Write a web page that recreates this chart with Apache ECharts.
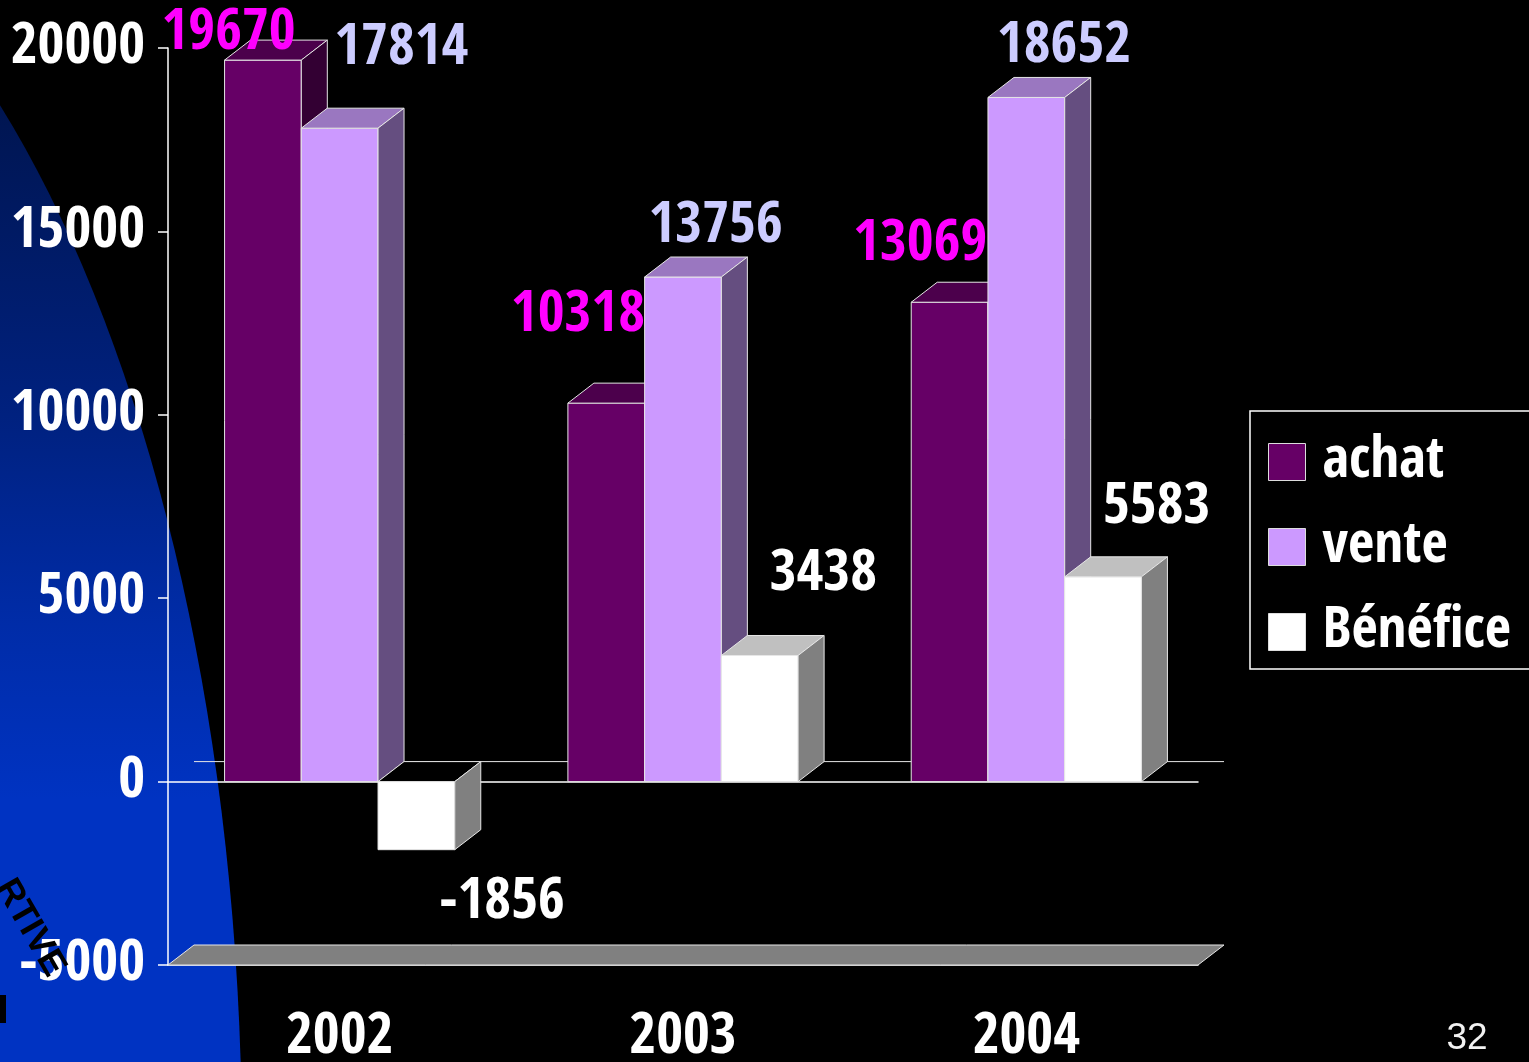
<!DOCTYPE html>
<html>
<head>
<meta charset="utf-8">
<title>achat / vente / Bénéfice</title>
<script src="https://cdn.jsdelivr.net/npm/echarts@6/dist/echarts.min.js"></script>
<style>
  html, body { margin: 0; padding: 0; background: #000; }
  #main { width: 1529px; height: 1062px; }
</style>
</head>
<body>
<div id="main"></div>
<script>
// values
var categories = ['2002', '2003', '2004'];
var achat = [19670, 10318, 13069];
var vente = [17814, 13756, 18652];
var benefice = [-1856, 3438, 5583];
var yMin = -5000, yMax = 20000, yStep = 5000;

var FONT = "'Open Sans Condensed', 'Roboto Condensed', 'DejaVu Sans Condensed', sans-serif";
// fake 3d depth of the bars (pixels)
var DX = 26, DY = -20;
var BAR_RATIO = 0.2235;

// label nudges, the labels on the slide were placed by hand
var labelShift = {
  achat: [[4, -26], [10, -87], [9, -57]],
  vente: [[100, -79], [71, -50], [76, -51]],
  benefice: [[124, 53], [102, -81], [92, -69]]
};

function toPairs(arr) {
  return arr.map(function (v, i) { return [i, v]; });
}

// one 3d bar: front, top and side faces + value label
function makeBar(slot, faces, labelColor, shifts) {
  return function (params, api) {
    var cat = api.value(0), val = api.value(1);
    var base = api.coord([cat, 0]);
    var end = api.coord([cat, val]);
    var band = api.size([1, 0])[0];
    var w = band * BAR_RATIO;
    var x0 = base[0] + (slot - 1.5) * w;
    var x1 = x0 + w;
    var yT = Math.min(base[1], end[1]);
    var yB = Math.max(base[1], end[1]);
    var edge = { stroke: '#e6e6e6', lineWidth: 1 };
    var sh = shifts[params.dataIndex];
    return {
      type: 'group',
      children: [
        { type: 'rect', shape: { x: x0, y: yT, width: w, height: yB - yT },
          style: Object.assign({ fill: faces[0] }, edge) },
        { type: 'polygon', shape: { points: [[x0, yT], [x1, yT], [x1 + DX, yT + DY], [x0 + DX, yT + DY]] },
          style: Object.assign({ fill: val < 0 ? '#000' : faces[1] }, edge) },
        { type: 'polygon', shape: { points: [[x1, yT], [x1 + DX, yT + DY], [x1 + DX, yB + DY], [x1, yB]] },
          style: Object.assign({ fill: faces[2] }, edge) },
        { type: 'text', z2: 100,
          style: { text: String(val), x: x0 + sh[0], y: end[1] + sh[1],
            align: 'center', verticalAlign: 'middle',
            fill: labelColor, font: 'bold 58px ' + FONT } }
      ]
    };
  };
}

// floor at the bottom and the back line at zero
function renderFloor(params, api) {
  var cs = params.coordSys;
  var yb = api.coord([0, yMin])[1];
  var y0 = api.coord([0, 0])[1];
  var xl = cs.x, xr = cs.x + cs.width;
  return {
    type: 'group',
    children: [
      { type: 'polygon', shape: { points: [[xl, yb], [xr, yb], [xr + DX, yb + DY], [xl + DX, yb + DY]] },
        style: { fill: '#808080', stroke: '#e6e6e6', lineWidth: 1 } },
      { type: 'line', shape: { x1: xl + DX, y1: y0 + DY, x2: xr + DX, y2: y0 + DY },
        style: { stroke: '#e6e6e6', lineWidth: 1 } }
    ]
  };
}

var myChart = echarts.init(document.getElementById('main'));

var option = {
  backgroundColor: '#000',
  animation: false,
  graphic: [
    { type: 'ellipse', z: -10, silent: true,
      shape: { cx: -356, cy: 1150, rx: 598, ry: 1300 },
      style: { fill: { type: 'linear', x: 0, y: 100, x2: 0, y2: 800, global: true,
        colorStops: [{ offset: 0, color: '#001550' }, { offset: 0.45, color: '#00217f' },
          { offset: 0.75, color: '#002ca8' }, { offset: 1, color: '#0033c2' }] } } },
    { type: 'text', z: 50, silent: true, x: 30, y: 928, rotation: -60 * Math.PI / 180,
      style: { text: 'RTIVE', align: 'center', verticalAlign: 'middle',
        fill: '#000', font: 'bold 36px "Liberation Sans", Arial, sans-serif' } },
    { type: 'rect', z: 50, silent: true, shape: { x: 0, y: 995, width: 6, height: 28 }, style: { fill: '#000' } },
    { type: 'text', silent: true, x: 1467, y: 1039,
      style: { text: '32', align: 'center', verticalAlign: 'middle',
        fill: '#f2f2f2', font: '37px "Liberation Sans", Arial, sans-serif' } }
  ],
  legend: {
    orient: 'vertical',
    left: 1250,
    top: 411,
    padding: [19, 20, 5, 18],
    borderColor: '#ffffff',
    borderWidth: 1.5,
    itemWidth: 37,
    itemHeight: 37,
    itemGap: 21,
    icon: 'rect',
    itemStyle: { borderColor: '#dddddd', borderWidth: 1 },
    textStyle: { color: '#fff', fontSize: 57, lineHeight: 56, fontWeight: 'bold', fontFamily: FONT, padding: [8, 0, 0, 12] },
    data: ['achat', 'vente', 'Bénéfice']
  },
  grid: { left: 168, right: 331, top: 48, bottom: 97, containLabel: false, outerBoundsMode: 'none' },
  xAxis: [
    {
      type: 'category',
      data: categories,
      position: 'bottom',
      axisLine: { onZero: false, lineStyle: { color: '#fff', width: 1.5 } },
      axisTick: { length: 12, lineStyle: { color: '#fff', width: 1.5 } },
      axisLabel: { color: '#fff', fontSize: 58, fontWeight: 'bold', fontFamily: FONT, margin: 44 },
      splitLine: { show: false }
    },
    {
      type: 'category',
      data: categories,
      position: 'top',
      axisLine: { onZero: true, lineStyle: { color: '#fff', width: 1.5 } },
      axisTick: { inside: true, length: 12, lineStyle: { color: '#fff', width: 1.5 } },
      axisLabel: { show: false },
      splitLine: { show: false }
    }
  ],
  yAxis: {
    type: 'value',
    min: yMin,
    max: yMax,
    interval: yStep,
    axisLine: { show: true, lineStyle: { color: '#fff', width: 1.5 } },
    axisTick: { show: true, length: 10, lineStyle: { color: '#fff', width: 1.5 } },
    axisLabel: { color: '#fff', fontSize: 58, fontWeight: 'bold', fontFamily: FONT, margin: 23,
      padding: [8, 0, 0, 0],
      formatter: function (v) { return String(v); } },
    splitLine: { show: false }
  },
  series: [
    { type: 'custom', name: 'floor', z: 1, silent: true, renderItem: renderFloor,
      data: [[0, yMin]], encode: { x: 0, y: 1 } },
    { type: 'custom', name: 'achat', renderItem: makeBar(0, ['#660066', '#4c004c', '#330033'], '#ff00ff', labelShift.achat),
      itemStyle: { color: '#660066' }, data: toPairs(achat), encode: { x: 0, y: 1 } },
    { type: 'custom', name: 'vente', renderItem: makeBar(1, ['#cc99ff', '#9a77c0', '#654e80'], '#ccccff', labelShift.vente),
      itemStyle: { color: '#cc99ff' }, data: toPairs(vente), encode: { x: 0, y: 1 } },
    { type: 'custom', name: 'Bénéfice', renderItem: makeBar(2, ['#ffffff', '#c0c0c0', '#808080'], '#ffffff', labelShift.benefice),
      itemStyle: { color: '#ffffff' }, data: toPairs(benefice), encode: { x: 0, y: 1 } }
  ]
};

myChart.setOption(option);
</script>
</body>
</html>
